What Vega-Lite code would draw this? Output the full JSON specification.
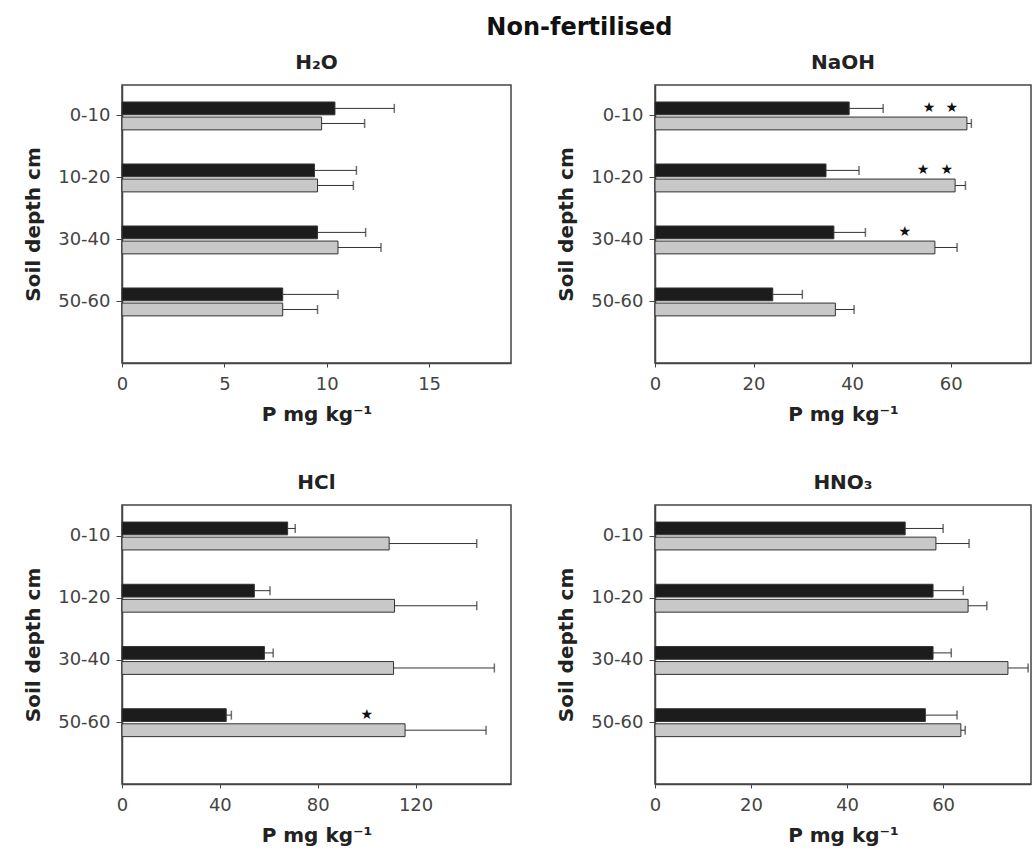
{
  "$schema": "https://vega.github.io/schema/vega-lite/v6.json",
  "padding": {"left": 22, "top": 16, "right": 0, "bottom": 0},
  "background": "white",
  "title": {"text": "Non-fertilised", "fontSize": 24, "font": "DejaVu Sans", "fontWeight": "bold", "color": "#111", "anchor": "middle", "offset": 12, "dx": 52},
  "datasets": {
    "bars": [
      {"ext": "H2O", "depth": "0-10", "grp": "A", "mean": 10.4, "hi": 13.3},
      {"ext": "H2O", "depth": "0-10", "grp": "B", "mean": 9.75, "hi": 11.85},
      {"ext": "H2O", "depth": "10-20", "grp": "A", "mean": 9.4, "hi": 11.45},
      {"ext": "H2O", "depth": "10-20", "grp": "B", "mean": 9.55, "hi": 11.3},
      {"ext": "H2O", "depth": "30-40", "grp": "A", "mean": 9.55, "hi": 11.9},
      {"ext": "H2O", "depth": "30-40", "grp": "B", "mean": 10.55, "hi": 12.65},
      {"ext": "H2O", "depth": "50-60", "grp": "A", "mean": 7.85, "hi": 10.55},
      {"ext": "H2O", "depth": "50-60", "grp": "B", "mean": 7.85, "hi": 9.55},
      {"ext": "NaOH", "depth": "0-10", "grp": "A", "mean": 39.4, "hi": 46.3},
      {"ext": "NaOH", "depth": "0-10", "grp": "B", "mean": 63.3, "hi": 64.2},
      {"ext": "NaOH", "depth": "10-20", "grp": "A", "mean": 34.7, "hi": 41.4},
      {"ext": "NaOH", "depth": "10-20", "grp": "B", "mean": 60.9, "hi": 63.0},
      {"ext": "NaOH", "depth": "30-40", "grp": "A", "mean": 36.3, "hi": 42.7},
      {"ext": "NaOH", "depth": "30-40", "grp": "B", "mean": 56.8, "hi": 61.3},
      {"ext": "NaOH", "depth": "50-60", "grp": "A", "mean": 23.9, "hi": 29.9},
      {"ext": "NaOH", "depth": "50-60", "grp": "B", "mean": 36.6, "hi": 40.4},
      {"ext": "HCl", "depth": "0-10", "grp": "A", "mean": 67.7, "hi": 70.8},
      {"ext": "HCl", "depth": "0-10", "grp": "B", "mean": 109.2, "hi": 145.0},
      {"ext": "HCl", "depth": "10-20", "grp": "A", "mean": 54.1, "hi": 60.5},
      {"ext": "HCl", "depth": "10-20", "grp": "B", "mean": 111.4, "hi": 145.0},
      {"ext": "HCl", "depth": "30-40", "grp": "A", "mean": 58.2, "hi": 61.8},
      {"ext": "HCl", "depth": "30-40", "grp": "B", "mean": 111.0, "hi": 152.2},
      {"ext": "HCl", "depth": "50-60", "grp": "A", "mean": 42.6, "hi": 44.7},
      {"ext": "HCl", "depth": "50-60", "grp": "B", "mean": 115.7, "hi": 148.8},
      {"ext": "HNO3", "depth": "0-10", "grp": "A", "mean": 52.1, "hi": 60.0},
      {"ext": "HNO3", "depth": "0-10", "grp": "B", "mean": 58.5, "hi": 65.4},
      {"ext": "HNO3", "depth": "10-20", "grp": "A", "mean": 57.9, "hi": 64.2},
      {"ext": "HNO3", "depth": "10-20", "grp": "B", "mean": 65.2, "hi": 69.1},
      {"ext": "HNO3", "depth": "30-40", "grp": "A", "mean": 57.9, "hi": 61.7},
      {"ext": "HNO3", "depth": "30-40", "grp": "B", "mean": 73.5, "hi": 77.7},
      {"ext": "HNO3", "depth": "50-60", "grp": "A", "mean": 56.3, "hi": 62.9},
      {"ext": "HNO3", "depth": "50-60", "grp": "B", "mean": 63.7, "hi": 64.6}
    ],
    "stars": [
      {"ext": "NaOH", "depth": "0-10", "grp": "A", "pos": 55.6},
      {"ext": "NaOH", "depth": "0-10", "grp": "A", "pos": 60.2},
      {"ext": "NaOH", "depth": "10-20", "grp": "A", "pos": 54.4},
      {"ext": "NaOH", "depth": "10-20", "grp": "A", "pos": 59.2},
      {"ext": "NaOH", "depth": "30-40", "grp": "A", "pos": 50.7},
      {"ext": "HCl", "depth": "50-60", "grp": "A", "pos": 100.1}
    ]
  },
  "columns": 2,
  "spacing": {"row": 47, "column": 43},
  "concat": [
    {
      "title": "H₂O",
      "width": 389,
      "height": 278,
      "layer": [
        {
          "data": {"name": "bars"},
          "transform": [{"filter": "datum.ext === 'H2O'"}],
          "mark": {"type": "bar", "stroke": "#333", "strokeWidth": 1},
          "encoding": {
            "y": {"field": "depth", "type": "nominal", "scale": {"domain": ["0-10", "10-20", "30-40", "50-60"], "paddingInner": 0.55, "paddingOuter": 0.517, "align": 0.265}, "title": "Soil depth cm"},
            "yOffset": {"field": "grp", "type": "nominal", "scale": {"domain": ["A", "B"], "paddingInner": 0.15}},
            "x": {"field": "mean", "type": "quantitative", "scale": {"domain": [0, 19], "nice": false}, "axis": {"values": [0, 5, 10, 15], "labelFlush": false}, "title": "P mg kg⁻¹"},
            "color": {"field": "grp", "type": "nominal", "scale": {"domain": ["A", "B"], "range": ["#1c1c1c", "#c8c8c8"]}, "legend": null}
          }
        },
        {
          "data": {"name": "bars"},
          "transform": [{"filter": "datum.ext === 'H2O'"}],
          "mark": {"type": "rule", "color": "#333", "strokeWidth": 1},
          "encoding": {
            "y": {"field": "depth", "type": "nominal", "title": "Soil depth cm"},
            "yOffset": {"field": "grp", "type": "nominal"},
            "x": {"field": "mean", "type": "quantitative", "title": "P mg kg⁻¹"},
            "x2": {"field": "hi"}
          }
        },
        {
          "data": {"name": "bars"},
          "transform": [{"filter": "datum.ext === 'H2O'"}],
          "mark": {"type": "tick", "color": "#333", "size": 9, "thickness": 1.5},
          "encoding": {
            "y": {"field": "depth", "type": "nominal", "title": "Soil depth cm"},
            "yOffset": {"field": "grp", "type": "nominal"},
            "x": {"field": "hi", "type": "quantitative", "title": "P mg kg⁻¹"}
          }
        }
      ]
    },
    {
      "title": "NaOH",
      "width": 376,
      "height": 278,
      "layer": [
        {
          "data": {"name": "bars"},
          "transform": [{"filter": "datum.ext === 'NaOH'"}],
          "mark": {"type": "bar", "stroke": "#333", "strokeWidth": 1},
          "encoding": {
            "y": {"field": "depth", "type": "nominal", "scale": {"domain": ["0-10", "10-20", "30-40", "50-60"], "paddingInner": 0.55, "paddingOuter": 0.517, "align": 0.265}, "title": "Soil depth cm"},
            "yOffset": {"field": "grp", "type": "nominal", "scale": {"domain": ["A", "B"], "paddingInner": 0.15}},
            "x": {"field": "mean", "type": "quantitative", "scale": {"domain": [0, 76.3], "nice": false}, "axis": {"values": [0, 20, 40, 60], "labelFlush": false}, "title": "P mg kg⁻¹"},
            "color": {"field": "grp", "type": "nominal", "scale": {"domain": ["A", "B"], "range": ["#1c1c1c", "#c8c8c8"]}, "legend": null}
          }
        },
        {
          "data": {"name": "bars"},
          "transform": [{"filter": "datum.ext === 'NaOH'"}],
          "mark": {"type": "rule", "color": "#333", "strokeWidth": 1},
          "encoding": {
            "y": {"field": "depth", "type": "nominal", "title": "Soil depth cm"},
            "yOffset": {"field": "grp", "type": "nominal"},
            "x": {"field": "mean", "type": "quantitative", "title": "P mg kg⁻¹"},
            "x2": {"field": "hi"}
          }
        },
        {
          "data": {"name": "bars"},
          "transform": [{"filter": "datum.ext === 'NaOH'"}],
          "mark": {"type": "tick", "color": "#333", "size": 9, "thickness": 1.5},
          "encoding": {
            "y": {"field": "depth", "type": "nominal", "title": "Soil depth cm"},
            "yOffset": {"field": "grp", "type": "nominal"},
            "x": {"field": "hi", "type": "quantitative", "title": "P mg kg⁻¹"}
          }
        },
        {
          "data": {"name": "stars"},
          "transform": [{"filter": "datum.ext === 'NaOH'"}],
          "mark": {"type": "text", "text": "★", "fontSize": 14, "color": "#111", "baseline": "middle", "align": "center"},
          "encoding": {
            "y": {"field": "depth", "type": "nominal", "title": "Soil depth cm"},
            "yOffset": {"field": "grp", "type": "nominal"},
            "x": {"field": "pos", "type": "quantitative", "title": "P mg kg⁻¹"}
          }
        }
      ]
    },
    {
      "title": "HCl",
      "width": 389,
      "height": 279,
      "layer": [
        {
          "data": {"name": "bars"},
          "transform": [{"filter": "datum.ext === 'HCl'"}],
          "mark": {"type": "bar", "stroke": "#333", "strokeWidth": 1},
          "encoding": {
            "y": {"field": "depth", "type": "nominal", "scale": {"domain": ["0-10", "10-20", "30-40", "50-60"], "paddingInner": 0.55, "paddingOuter": 0.517, "align": 0.265}, "title": "Soil depth cm"},
            "yOffset": {"field": "grp", "type": "nominal", "scale": {"domain": ["A", "B"], "paddingInner": 0.15}},
            "x": {"field": "mean", "type": "quantitative", "scale": {"domain": [0, 159], "nice": false}, "axis": {"values": [0, 40, 80, 120], "labelFlush": false}, "title": "P mg kg⁻¹"},
            "color": {"field": "grp", "type": "nominal", "scale": {"domain": ["A", "B"], "range": ["#1c1c1c", "#c8c8c8"]}, "legend": null}
          }
        },
        {
          "data": {"name": "bars"},
          "transform": [{"filter": "datum.ext === 'HCl'"}],
          "mark": {"type": "rule", "color": "#333", "strokeWidth": 1},
          "encoding": {
            "y": {"field": "depth", "type": "nominal", "title": "Soil depth cm"},
            "yOffset": {"field": "grp", "type": "nominal"},
            "x": {"field": "mean", "type": "quantitative", "title": "P mg kg⁻¹"},
            "x2": {"field": "hi"}
          }
        },
        {
          "data": {"name": "bars"},
          "transform": [{"filter": "datum.ext === 'HCl'"}],
          "mark": {"type": "tick", "color": "#333", "size": 9, "thickness": 1.5},
          "encoding": {
            "y": {"field": "depth", "type": "nominal", "title": "Soil depth cm"},
            "yOffset": {"field": "grp", "type": "nominal"},
            "x": {"field": "hi", "type": "quantitative", "title": "P mg kg⁻¹"}
          }
        },
        {
          "data": {"name": "stars"},
          "transform": [{"filter": "datum.ext === 'HCl'"}],
          "mark": {"type": "text", "text": "★", "fontSize": 14, "color": "#111", "baseline": "middle", "align": "center"},
          "encoding": {
            "y": {"field": "depth", "type": "nominal", "title": "Soil depth cm"},
            "yOffset": {"field": "grp", "type": "nominal"},
            "x": {"field": "pos", "type": "quantitative", "title": "P mg kg⁻¹"}
          }
        }
      ]
    },
    {
      "title": "HNO₃",
      "width": 376,
      "height": 279,
      "layer": [
        {
          "data": {"name": "bars"},
          "transform": [{"filter": "datum.ext === 'HNO3'"}],
          "mark": {"type": "bar", "stroke": "#333", "strokeWidth": 1},
          "encoding": {
            "y": {"field": "depth", "type": "nominal", "scale": {"domain": ["0-10", "10-20", "30-40", "50-60"], "paddingInner": 0.55, "paddingOuter": 0.517, "align": 0.265}, "title": "Soil depth cm"},
            "yOffset": {"field": "grp", "type": "nominal", "scale": {"domain": ["A", "B"], "paddingInner": 0.15}},
            "x": {"field": "mean", "type": "quantitative", "scale": {"domain": [0, 78.3], "nice": false}, "axis": {"values": [0, 20, 40, 60], "labelFlush": false}, "title": "P mg kg⁻¹"},
            "color": {"field": "grp", "type": "nominal", "scale": {"domain": ["A", "B"], "range": ["#1c1c1c", "#c8c8c8"]}, "legend": null}
          }
        },
        {
          "data": {"name": "bars"},
          "transform": [{"filter": "datum.ext === 'HNO3'"}],
          "mark": {"type": "rule", "color": "#333", "strokeWidth": 1},
          "encoding": {
            "y": {"field": "depth", "type": "nominal", "title": "Soil depth cm"},
            "yOffset": {"field": "grp", "type": "nominal"},
            "x": {"field": "mean", "type": "quantitative", "title": "P mg kg⁻¹"},
            "x2": {"field": "hi"}
          }
        },
        {
          "data": {"name": "bars"},
          "transform": [{"filter": "datum.ext === 'HNO3'"}],
          "mark": {"type": "tick", "color": "#333", "size": 9, "thickness": 1.5},
          "encoding": {
            "y": {"field": "depth", "type": "nominal", "title": "Soil depth cm"},
            "yOffset": {"field": "grp", "type": "nominal"},
            "x": {"field": "hi", "type": "quantitative", "title": "P mg kg⁻¹"}
          }
        }
      ]
    }
  ],
  "config": {
    "font": "DejaVu Sans",
    "view": {"stroke": "#444", "strokeWidth": 1.5},
    "axis": {"labelFont": "DejaVu Sans", "labelFontSize": 18, "labelColor": "#444", "titleFont": "DejaVu Sans", "titleFontSize": 20, "titleFontWeight": "bold", "titleColor": "#222", "domainColor": "#444", "domainWidth": 1.5, "tickColor": "#444", "grid": false},
    "axisY": {"tickSize": 6, "labelPadding": 6, "titlePadding": 14},
    "axisX": {"tickSize": 4, "labelPadding": 8, "titlePadding": 11},
    "title": {"font": "DejaVu Sans", "fontSize": 20, "fontWeight": "bold", "color": "#222", "offset": 12}
  }
}
